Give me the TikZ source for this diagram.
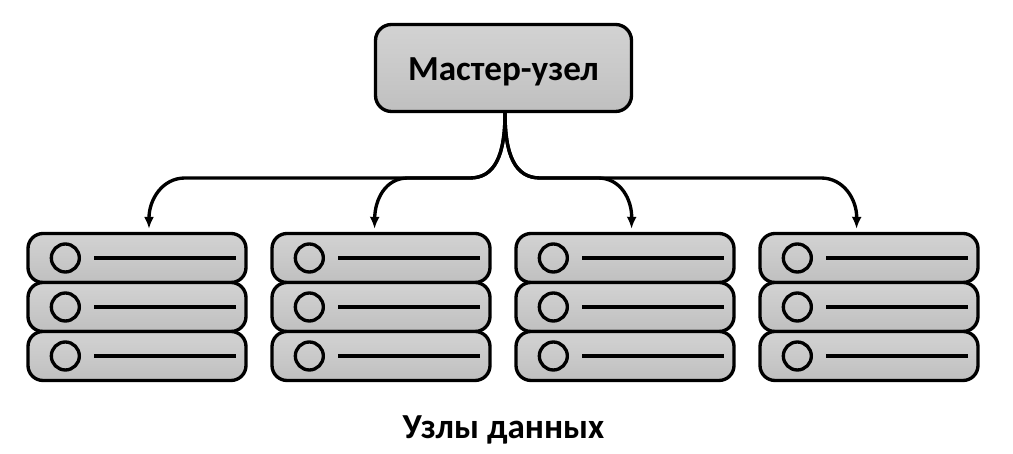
\documentclass[tikz,border=0pt]{standalone}
\usepackage{fontspec}
\setmainfont{Carlito}
\usetikzlibrary{arrows.meta}
\tikzset{
    boxline/.style={draw=black, line width=0.95pt, top color=gray!35, bottom color=gray!50, middle color=gray!42},
    masterbox/.style={boxline, rounded corners=0.16cm, minimum width=2.56cm, minimum height=0.87cm, inner sep=0pt},
    rowbox/.style={boxline, rounded corners=0.15cm, minimum width=2.18cm, minimum height=0.49cm, inner sep=0pt},
    disc/.style={circle, draw=black, line width=0.95pt, minimum size=0.28cm, inner sep=0pt},
    bar/.style={line width=0.95pt},
    link/.style={line width=0.95pt, -{Latex[length=0.12cm, width=0.1cm]}},
    title/.style={font=\fontsize{10}{12}\selectfont\bfseries, inner sep=0pt}
}
\begin{document}
\begin{tikzpicture}
    \useasboundingbox (0, 0) rectangle (10.13, -4.54);
    \foreach \s/\x in {1/1.37, 2/3.81, 3/6.25, 4/8.69} {
        \foreach \r/\y in {a/-2.58, b/-3.07, c/-3.56} {
            \node[rowbox] (row\s\r) at (\x, \y) {};
            \node[disc] (disc\s\r) at ([xshift=0.39cm]row\s\r.west) {};
            \coordinate (barin\s\r) at ([xshift=0.68cm]row\s\r.west);
            \coordinate (barout\s\r) at ([xshift=-0.12cm]row\s\r.east);
            \draw[bar] (barin\s\r) -- (barout\s\r);
        }
    }
    \node[masterbox, title] (master) at (5.035, -0.68) {\raisebox{-0.13cm}[0pt][0pt]{Мастер-узел}};
    \node[title] (datanodes) at (5.035, -4.27) {\raisebox{-0.12cm}[0pt][0pt]{Узлы данных}};
    % shared stems under the master box
    \coordinate (stem) at (5.05, -1.13);
    \coordinate (tip1) at ([xshift=0.12cm, yshift=0.03cm]row1a.north);
    \coordinate (tip2) at ([xshift=-0.065cm, yshift=0.03cm]row2a.north);
    \coordinate (tip3) at ([xshift=0.065cm, yshift=0.03cm]row3a.north);
    \coordinate (tip4) at ([xshift=-0.125cm, yshift=0.03cm]row4a.north);
    \draw[link] (stem) .. controls (5.05, -1.55) and (4.95, -1.78) .. (4.7, -1.78) -- (1.85, -1.78) .. controls (1.62, -1.78) and (1.49, -2.0) .. (tip1);
    \draw[link] (stem) .. controls (5.05, -1.55) and (4.95, -1.78) .. (4.7, -1.78) -- (4.08, -1.78) .. controls (3.85, -1.78) and (3.75, -2.0) .. (tip2);
    \draw[link] (stem) .. controls (5.05, -1.55) and (5.15, -1.78) .. (5.4, -1.78) -- (5.98, -1.78) .. controls (6.21, -1.78) and (6.32, -2.0) .. (tip3);
    \draw[link] (stem) .. controls (5.05, -1.55) and (5.15, -1.78) .. (5.4, -1.78) -- (8.21, -1.78) .. controls (8.44, -1.78) and (8.57, -2.0) .. (tip4);
\end{tikzpicture}
\end{document}
